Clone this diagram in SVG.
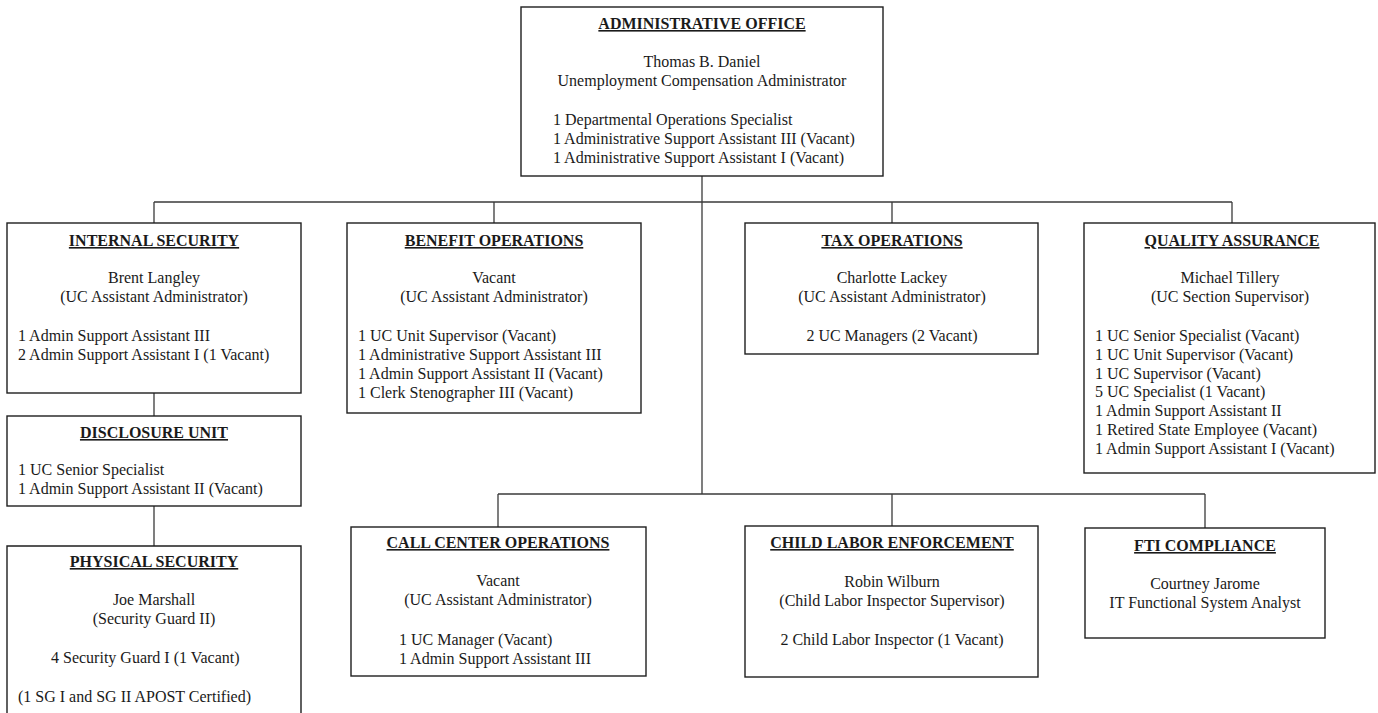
<svg xmlns="http://www.w3.org/2000/svg" width="1378" height="713" viewBox="0 0 1378 713">
<style>
  .box { fill: #ffffff; stroke: #1e1e1e; stroke-width: 1.4; }
  .conn { stroke: #3a3a3a; stroke-width: 1.3; fill: none; }
  text { font-family: "Liberation Serif", "Times New Roman", serif; font-size: 16px; fill: #1a1a1a; }
  .t { font-weight: bold; text-decoration: underline; text-anchor: middle; }
  .c { text-anchor: middle; }
  .l { text-anchor: start; }
</style>
<rect x="0" y="0" width="1378" height="713" fill="#ffffff"/>
<g id="connectors">
  <line class="conn" x1="702" y1="176" x2="702" y2="494"/>
  <line class="conn" x1="154" y1="202" x2="1232" y2="202"/>
  <line class="conn" x1="154" y1="202" x2="154" y2="223"/>
  <line class="conn" x1="494" y1="202" x2="494" y2="223"/>
  <line class="conn" x1="892" y1="202" x2="892" y2="223"/>
  <line class="conn" x1="1232" y1="202" x2="1232" y2="223"/>
  <line class="conn" x1="154" y1="393" x2="154" y2="416"/>
  <line class="conn" x1="154" y1="506" x2="154" y2="546"/>
  <line class="conn" x1="498" y1="494" x2="1205" y2="494"/>
  <line class="conn" x1="498" y1="494" x2="498" y2="527"/>
  <line class="conn" x1="892" y1="494" x2="892" y2="526"/>
  <line class="conn" x1="1205" y1="494" x2="1205" y2="528"/>
</g>
<g id="admin-office">
  <rect class="box" x="521" y="7" width="362" height="169"/>
  <text class="t" x="702" y="29">ADMINISTRATIVE OFFICE</text>
  <text class="c" x="702" y="67">Thomas B. Daniel</text>
  <text class="c" x="702" y="86">Unemployment Compensation Administrator</text>
  <text class="l" x="553" y="125">1 Departmental Operations Specialist</text>
  <text class="l" x="553" y="144">1 Administrative Support Assistant III (Vacant)</text>
  <text class="l" x="553" y="163">1 Administrative Support Assistant I (Vacant)</text>
</g>
<g id="internal-security">
  <rect class="box" x="7" y="223" width="294" height="170"/>
  <text class="t" x="154" y="246">INTERNAL SECURITY</text>
  <text class="c" x="154" y="283">Brent Langley</text>
  <text class="c" x="154" y="302">(UC Assistant Administrator)</text>
  <text class="l" x="18" y="341">1 Admin Support Assistant III</text>
  <text class="l" x="18" y="360">2 Admin Support Assistant I (1 Vacant)</text>
</g>
<g id="disclosure-unit">
  <rect class="box" x="7" y="416" width="294" height="90"/>
  <text class="t" x="154" y="438">DISCLOSURE UNIT</text>
  <text class="l" x="18" y="475">1 UC Senior Specialist</text>
  <text class="l" x="18" y="494">1 Admin Support Assistant II (Vacant)</text>
</g>
<g id="physical-security">
  <path class="box" d="M7,720 L7,546 L301,546 L301,720"/>
  <text class="t" x="154" y="567">PHYSICAL SECURITY</text>
  <text class="c" x="154" y="605">Joe Marshall</text>
  <text class="c" x="154" y="624">(Security Guard II)</text>
  <text class="l" x="51" y="663">4 Security Guard I (1 Vacant)</text>
  <text class="l" x="18" y="702">(1 SG I and SG II APOST Certified)</text>
</g>
<g id="benefit-operations">
  <rect class="box" x="347" y="223" width="294" height="190"/>
  <text class="t" x="494" y="246">BENEFIT OPERATIONS</text>
  <text class="c" x="494" y="283">Vacant</text>
  <text class="c" x="494" y="302">(UC Assistant Administrator)</text>
  <text class="l" x="358" y="341">1 UC Unit Supervisor (Vacant)</text>
  <text class="l" x="358" y="360">1 Administrative Support Assistant III</text>
  <text class="l" x="358" y="379">1 Admin Support Assistant II (Vacant)</text>
  <text class="l" x="358" y="398">1 Clerk Stenographer III (Vacant)</text>
</g>
<g id="tax-operations">
  <rect class="box" x="745" y="223" width="293" height="131"/>
  <text class="t" x="892" y="246">TAX OPERATIONS</text>
  <text class="c" x="892" y="283">Charlotte Lackey</text>
  <text class="c" x="892" y="302">(UC Assistant Administrator)</text>
  <text class="c" x="892" y="341">2 UC Managers (2 Vacant)</text>
</g>
<g id="quality-assurance">
  <rect class="box" x="1084" y="223" width="291" height="250"/>
  <text class="t" x="1232" y="246">QUALITY ASSURANCE</text>
  <text class="c" x="1230" y="283">Michael Tillery</text>
  <text class="c" x="1230" y="302">(UC Section Supervisor)</text>
  <text class="l" x="1095" y="341">1 UC Senior Specialist (Vacant)</text>
  <text class="l" x="1095" y="360">1 UC Unit Supervisor (Vacant)</text>
  <text class="l" x="1095" y="378.5">1 UC Supervisor (Vacant)</text>
  <text class="l" x="1095" y="397">5 UC Specialist (1 Vacant)</text>
  <text class="l" x="1095" y="416">1 Admin Support Assistant II</text>
  <text class="l" x="1095" y="435">1 Retired State Employee (Vacant)</text>
  <text class="l" x="1095" y="454">1 Admin Support Assistant I (Vacant)</text>
</g>
<g id="call-center-operations">
  <rect class="box" x="351" y="527" width="295" height="149"/>
  <text class="t" x="498" y="548">CALL CENTER OPERATIONS</text>
  <text class="c" x="498" y="586">Vacant</text>
  <text class="c" x="498" y="605">(UC Assistant Administrator)</text>
  <text class="l" x="399" y="645">1 UC Manager (Vacant)</text>
  <text class="l" x="399" y="664">1 Admin Support Assistant III</text>
</g>
<g id="child-labor-enforcement">
  <rect class="box" x="745" y="526" width="293" height="151"/>
  <text class="t" x="892" y="548">CHILD LABOR ENFORCEMENT</text>
  <text class="c" x="892" y="587">Robin Wilburn</text>
  <text class="c" x="892" y="606">(Child Labor Inspector Supervisor)</text>
  <text class="c" x="892" y="645">2 Child Labor Inspector (1 Vacant)</text>
</g>
<g id="fti-compliance">
  <rect class="box" x="1085" y="528" width="240" height="110"/>
  <text class="t" x="1205" y="551">FTI COMPLIANCE</text>
  <text class="c" x="1205" y="589">Courtney Jarome</text>
  <text class="c" x="1205" y="608">IT Functional System Analyst</text>
</g>
</svg>
